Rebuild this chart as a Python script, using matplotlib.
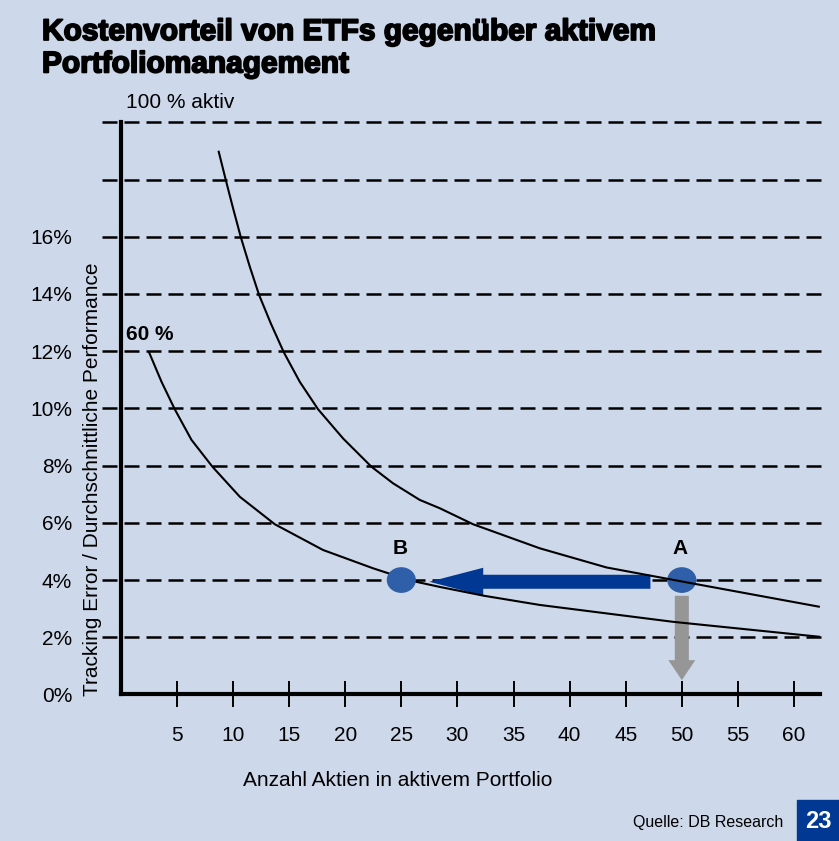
import matplotlib.pyplot as plt
import matplotlib.patheffects as pe
from matplotlib.patches import Ellipse, FancyArrow, Rectangle

# --- data ---
upper_x = [8.73, 9.36, 10.01, 10.70, 11.50, 12.33, 13.37, 14.53, 15.95, 17.58,
           19.81, 22.34, 24.27, 26.65, 28.43, 31.40, 37.34, 43.29, 50.42, 62.21]
upper_y = [18.97, 17.98, 16.99, 15.98, 14.95, 13.96, 12.97, 11.96, 10.93, 9.97,
           8.95, 7.96, 7.38, 6.80, 6.51, 5.95, 5.11, 4.44, 3.92, 3.07]

lower_x = [2.52, 3.63, 4.81, 6.30, 8.17, 10.61, 13.73, 18.03, 22.49, 23.82,
           26.20, 28.43, 32.38, 37.34, 49.22, 62.21]
lower_y = [11.96, 10.93, 9.97, 8.90, 7.96, 6.91, 5.95, 5.05, 4.41, 4.24,
           3.95, 3.76, 3.45, 3.13, 2.54, 2.02]

grid_levels = [2, 4, 6, 8, 10, 12, 14, 16, 18, 20]
ytick_vals = [0, 2, 4, 6, 8, 10, 12, 14, 16]
ytick_labels = ['0%', '2%', '4%', '6%', '8%', '10%', '12%', '14%', '16%']
xtick_vals = [5, 10, 15, 20, 25, 30, 35, 40, 45, 50, 55, 60]

point_a = (50, 4.0)
point_b = (25, 4.0)
move_tail = (47.2, 3.94)   # blue arrow: A -> B
move_tip = (27.5, 3.94)
drop_tail = (50, 3.45)     # gray arrow: down from A
drop_tip = (50, 0.5)

bg = '#cdd8ea'
dark_blue = '#003893'
dot_blue = '#2f5fa8'

fig = plt.figure(figsize=(8.39, 8.41), dpi=100, facecolor=bg)
plt.rcParams['font.family'] = ['Liberation Sans', 'DejaVu Sans']

ax = fig.add_axes([0.1132, 0.1572, 0.8867, 0.7314])
ax.set_facecolor(bg)
ax.set_xlim(-2.3, 64)
ax.set_ylim(-0.5, 21)

# dashed horizontal guide lines
ax.hlines(grid_levels, -1.7, 63.0, colors='black', linewidth=1.8,
          linestyles=[(0, (6, 2.8))], zorder=1)

# spines
for s in ['top', 'right']:
    ax.spines[s].set_visible(False)
ax.spines['left'].set_position(('data', 0))
ax.spines['bottom'].set_position(('data', 0))
ax.spines['left'].set_bounds(0, 20)
ax.spines['bottom'].set_bounds(0, 62.3)
ax.spines['left'].set_linewidth(3)
ax.spines['bottom'].set_linewidth(3)

ax.set_xticks(xtick_vals)
ax.tick_params(axis='x', direction='inout', length=19, width=1.4,
               labelsize=15, pad=13)
ax.set_yticks(ytick_vals)
ax.set_yticklabels(ytick_labels)
ax.tick_params(axis='y', length=0, labelsize=15, pad=35)

# arrows
ax.add_patch(FancyArrow(move_tail[0], move_tail[1], move_tip[0] - move_tail[0], 0,
                        width=0.49, head_width=0.98, head_length=4.8,
                        length_includes_head=True, color=dark_blue, lw=0, zorder=2))
ax.add_patch(FancyArrow(drop_tail[0], drop_tail[1], 0, drop_tip[1] - drop_tail[1],
                        width=1.25, head_width=2.4, head_length=0.7,
                        length_includes_head=True, color='#969696', lw=0, zorder=2))

# point A sits under the curve, B over it
ax.add_patch(Ellipse(point_a, 2.47, 0.85, color=dot_blue, zorder=2.5))
ax.plot(upper_x, upper_y, color='black', lw=1.5, zorder=3, solid_joinstyle='round')
ax.plot(lower_x, lower_y, color='black', lw=1.5, zorder=3, solid_joinstyle='round')
ax.add_patch(Ellipse(point_b, 2.47, 0.85, color=dot_blue, zorder=4))

ax.text(point_a[0] - 0.2, 5.12, 'A', fontsize=15, fontweight='bold', ha='center', va='center')
ax.text(point_b[0] - 0.1, 5.12, 'B', fontsize=15, fontweight='bold', ha='center', va='center')
ax.text(0.5, 12.6, '60 %', fontsize=15, fontweight='bold', ha='left', va='center')
ax.text(0.5, 20.68, '100 % aktiv', fontsize=15, ha='left', va='center', clip_on=False)

fig.text(93 / 839, 1 - 479 / 841, 'Tracking Error / Durchschnittliche Performance',
         rotation=90, fontsize=15, ha='center', va='center')
fig.text(398 / 839, 1 - 780 / 841, 'Anzahl Aktien in aktivem Portfolio',
         fontsize=15, ha='center', va='center')

fig.text(42 / 839, 1 - 18 / 841,
         'Kostenvorteil von ETFs gegenüber aktivem\nPortfoliomanagement',
         fontsize=21.5, fontweight='bold', ha='left', va='top', linespacing=1.2,
         path_effects=[pe.withStroke(linewidth=1.3, foreground='black')])

fig.text(783 / 839, 1 - 823 / 841, 'Quelle: DB Research', fontsize=11.5,
         ha='right', va='center')
fig.patches.append(Rectangle((797 / 839, 0), 42 / 839, 41 / 841,
                             transform=fig.transFigure, color=dark_blue))
fig.text(818 / 839, 1 - 821 / 841, '23', fontsize=17, fontweight='bold',
         color='white', ha='center', va='center')

fig.savefig('out.png', dpi=100, facecolor=bg)
